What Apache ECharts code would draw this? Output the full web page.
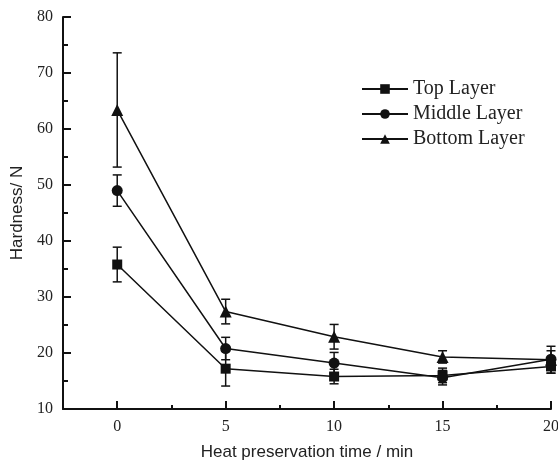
<!DOCTYPE html>
<html>
<head>
<meta charset="utf-8">
<script src="https://cdn.jsdelivr.net/npm/echarts@6/dist/echarts.min.js"></script>
<style>html,body{margin:0;padding:0;background:#fff}#c{width:558px;height:462px}</style>
</head>
<body>
<div id="c"></div>
<script>
const times = [0, 5, 10, 15, 20];
const topLayer = [35.8, 17.2, 15.8, 16.0, 17.6];
const topErr = [3.1, 3.1, 1.3, 1.3, 1.2];
const middleLayer = [49.0, 20.8, 18.2, 15.6, 18.9];
const middleErr = [2.8, 2.0, 1.9, 1.3, 1.5];
const bottomLayer = [63.4, 27.4, 22.9, 19.3, 18.8];
const bottomErr = [10.2, 2.2, 2.2, 1.1, 2.4];
const xMajorTicks = [0, 5, 10, 15, 20];
const xMinorTicks = [2.5, 7.5, 12.5, 17.5];
const seriesNames = ['Top Layer', 'Middle Layer', 'Bottom Layer'];

const chart = echarts.init(document.getElementById('c'), null, {renderer: 'canvas'});
const black = '#111';
const serif = '"Liberation Serif", "Times New Roman", serif';
const sans = '"Liberation Sans", Arial, sans-serif';

function pts(vals) { return times.map((t, i) => [t, vals[i]]); }
function errData(vals, errs) { return times.map((t, i) => [t, vals[i] - errs[i], vals[i] + errs[i]]); }
function errSeries(vals, errs) {
  return {
    type: 'custom',
    silent: true,
    z: 1,
    data: errData(vals, errs),
    encode: {x: 0, y: [1, 2]},
    renderItem: function (params, api) {
      const x = api.value(0);
      const lo = api.coord([x, api.value(1)]);
      const hi = api.coord([x, api.value(2)]);
      const hw = 4.5;
      const st = {stroke: black, lineWidth: 1.5};
      return {
        type: 'group',
        children: [
          {type: 'line', shape: {x1: lo[0], y1: lo[1], x2: hi[0], y2: hi[1]}, style: st},
          {type: 'line', shape: {x1: lo[0] - hw, y1: lo[1], x2: lo[0] + hw, y2: lo[1]}, style: st},
          {type: 'line', shape: {x1: hi[0] - hw, y1: hi[1], x2: hi[0] + hw, y2: hi[1]}, style: st}
        ]
      };
    }
  };
}
function lineSeries(name, vals, symbol, size) {
  return {
    name: name,
    type: 'line',
    data: pts(vals),
    symbol: symbol,
    symbolSize: size,
    z: 3,
    lineStyle: {color: black, width: 1.5},
    itemStyle: {color: black}
  };
}

chart.setOption({
  animation: false,
  backgroundColor: '#fff',
  grid: {left: 63, top: 17, right: 7, bottom: 53, containLabel: false, outerBoundsMode: 'none'},
  legend: {
    data: seriesNames,
    orient: 'vertical',
    left: 356,
    top: 74,
    itemWidth: 46,
    itemHeight: 12,
    itemGap: 5,
    textStyle: {fontFamily: serif, fontSize: 20, color: '#222', padding: [0, 0, 0, 0]}
  },
  xAxis: [
    {
      type: 'value', min: -2.5, max: 20, interval: 2.5,
      name: 'Heat preservation time / min', nameLocation: 'middle', nameGap: 35,
      nameTextStyle: {fontFamily: sans, fontSize: 17, color: '#222'},
      axisLine: {onZero: false, lineStyle: {color: black, width: 2}},
      axisTick: {show: true, inside: true, length: 8, customValues: xMajorTicks, lineStyle: {color: black, width: 2}},
      axisLabel: {customValues: xMajorTicks, fontFamily: serif, fontSize: 16, color: '#222', margin: 10},
      splitLine: {show: false}
    },
    {
      type: 'value', min: -2.5, max: 20, interval: 2.5, position: 'bottom',
      axisLine: {show: false, onZero: false},
      axisTick: {show: true, inside: true, length: 4, customValues: xMinorTicks, lineStyle: {color: black, width: 2}},
      axisLabel: {show: false},
      splitLine: {show: false}
    }
  ],
  yAxis: {
    type: 'value', min: 10, max: 80, interval: 10,
    name: 'Hardness/ N', nameLocation: 'middle', nameGap: 37, nameRotate: 90,
    nameTextStyle: {fontFamily: sans, fontSize: 17, color: '#222'},
    axisLine: {show: true, onZero: false, lineStyle: {color: black, width: 2}},
    axisTick: {show: true, inside: true, length: 8, lineStyle: {color: black, width: 2}},
    minorTick: {show: true, splitNumber: 2, length: 5, lineStyle: {color: black, width: 2}},
    axisLabel: {fontFamily: serif, fontSize: 16, color: '#222', margin: 10},
    splitLine: {show: false}
  },
  series: [
    errSeries(topLayer, topErr),
    errSeries(middleLayer, middleErr),
    errSeries(bottomLayer, bottomErr),
    lineSeries(seriesNames[0], topLayer, 'rect', 10),
    lineSeries(seriesNames[1], middleLayer, 'circle', 11),
    lineSeries(seriesNames[2], bottomLayer, 'triangle', 12)
  ]
});
</script>
</body>
</html>
